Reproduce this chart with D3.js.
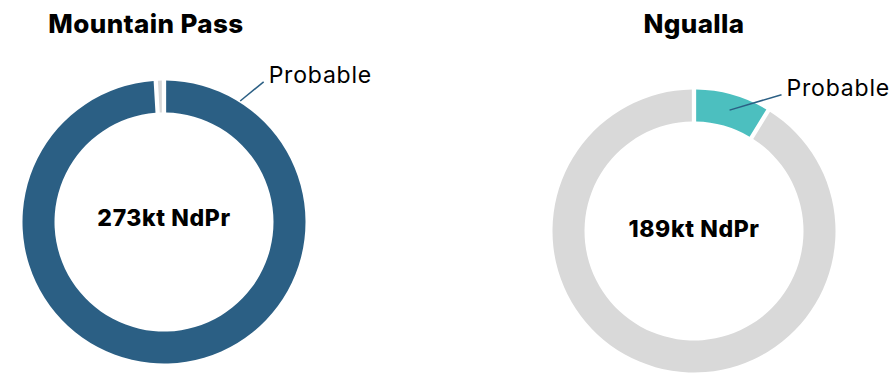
<!DOCTYPE html>
<html>
<head>
<meta charset="utf-8">
<script src="https://cdn.jsdelivr.net/npm/d3@7"></script>
<style>
  body { margin: 0; background: #fff; }
  svg { display: block; }
  text { font-family: Inter, "Open Sans", sans-serif; }
</style>
</head>
<body>
<svg width="894" height="373"></svg>
<script>
// data
const mines = ["Mountain Pass", "Ngualla"];
const categories = ["Probable", "Proven"];
const probable = [271.5, 16];
const proven = [1.5, 173];
const centerLabels = ["273kt NdPr", "189kt NdPr"];

// layout (per chart)
const layout = [
  { cx: 164, cy: 222, titleX: 146, color: "#2b5f84",
    lineStart: [32.2, 143], lineEnd: [35.4, 172], textDy: -4 },
  { cx: 694, cy: 231, titleX: 694, color: "#4cbfbf",
    lineStart: [16.4, 126], lineEnd: [32.7, 162], textDy: -2 }
];
const grey = "#d9d9d9";
const outerR = 141.5, innerR = 109.5;

const svg = d3.select("svg");

const pie = d3.pie().sort(null).value(d => d.value).padAngle(0.024);
const arc = d3.arc().innerRadius(innerR).outerRadius(outerR);

const polar = (deg, r) => {
  const a = deg * Math.PI / 180;
  return [Math.sin(a) * r, -Math.cos(a) * r];
};

mines.forEach((name, i) => {
  const L = layout[i];
  const data = [
    { key: categories[0], value: probable[i] },
    { key: categories[1], value: proven[i] }
  ];
  const colour = d3.scaleOrdinal().domain(categories).range([L.color, grey]);

  svg.append("text")
    .attr("x", L.titleX)
    .attr("y", 33)
    .attr("text-anchor", "middle")
    .attr("font-size", 26)
    .attr("font-weight", 800)
    .attr("letter-spacing", 0.4)
    .attr("fill", "#000")
    .text(name);

  const g = svg.append("g").attr("transform", `translate(${L.cx},${L.cy})`);

  g.selectAll("path")
    .data(pie(data))
    .enter()
    .append("path")
    .attr("d", arc)
    .attr("fill", d => colour(d.data.key));

  g.append("text")
    .attr("y", L.textDy)
    .attr("text-anchor", "middle")
    .attr("dominant-baseline", "central")
    .attr("font-size", 23)
    .attr("font-weight", 800)
    .attr("letter-spacing", 0.6)
    .attr("fill", "#000")
    .text(centerLabels[i]);

  const p0 = polar(L.lineStart[0], L.lineStart[1]);
  const p1 = polar(L.lineEnd[0], L.lineEnd[1]);
  g.append("line")
    .attr("x1", p0[0]).attr("y1", p0[1])
    .attr("x2", p1[0]).attr("y2", p1[1])
    .attr("stroke", "#2b5f84")
    .attr("stroke-width", 1.5);

  g.append("text")
    .attr("x", p1[0] + 5)
    .attr("y", p1[1] + 1)
    .attr("font-size", 23)
    .attr("letter-spacing", 0.8)
    .attr("fill", "#000")
    .text(categories[0]);
});
</script>
</body>
</html>
